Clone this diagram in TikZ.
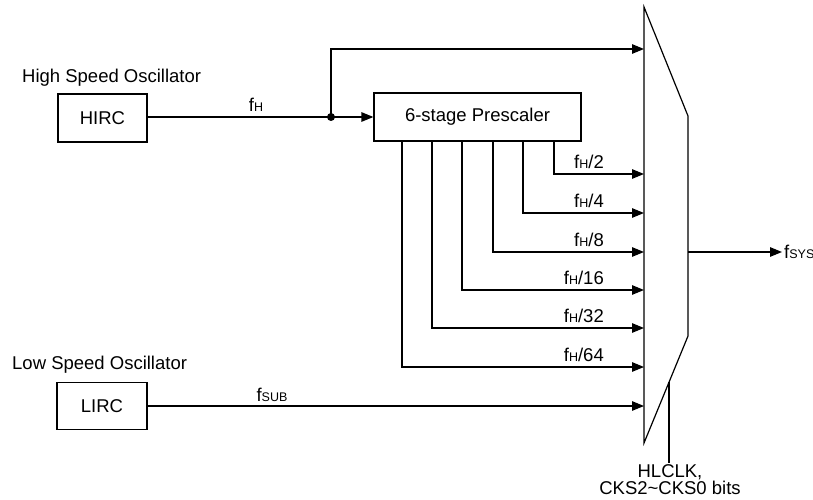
\documentclass[tikz,border=0pt]{standalone}
\usepackage{fontspec}
\setmainfont{Liberation Sans}
\usetikzlibrary{arrows.meta}
\newcommand{\sig}[2]{f{\fontsize{12.5}{13}\selectfont #2}}
\begin{document}
\begin{tikzpicture}[x=1pt,y=-1pt,
  every node/.style={font=\fontsize{18.5}{20}\selectfont, inner sep=0pt},
  wire/.style={line width=1.2pt},
  arr/.style={line width=1.2pt, -{Triangle[length=12pt,width=9.5pt]}},
  lbl/.style={anchor=base east}]
\useasboundingbox (0,0) rectangle (813,500);
% boxes
\node[draw, line width=1.2pt, minimum width=89pt, minimum height=48pt] (hirc) at (102.5,118) {HIRC};
\node[draw, line width=1.2pt, minimum width=90pt, minimum height=47pt] (lirc) at (102,406) {LIRC};
\node[draw, line width=1.2pt, minimum width=207pt, minimum height=48pt] (pre) at (477.5,117) {6-stage Prescaler};
\node[anchor=base west] (hso) at (22,83) {High Speed Oscillator};
\node[anchor=base west] (lso) at (12,369) {Low Speed Oscillator};
% mux
\draw[line width=1.2pt, line join=miter] (644,7) -- (688,116) -- (688,336) -- (644,443) -- cycle;
\coordinate (m0) at (644,49);
\coordinate (m1) at (644,174);
\coordinate (m2) at (644,213);
\coordinate (m3) at (644,252);
\coordinate (m4) at (644,290);
\coordinate (m5) at (644,328);
\coordinate (m6) at (644,367);
\coordinate (m7) at (644,406);
\coordinate (mout) at (688,252);
\coordinate (sel) at (669,382);
\coordinate (selend) at (669,463);
% fH path
\coordinate (dot) at (331,117);
\draw[wire] (hirc.east |- dot) -- (dot);
\draw[arr] (dot) -- (pre.west);
\fill (dot) circle (4pt);
\draw[arr] (dot) |- (m0);
\node[anchor=base] (fh) at (256,111) {\sig{f}{H}};
% prescaler outputs
\coordinate (p1) at (554,141);
\coordinate (p2) at (523,141);
\coordinate (p3) at (493,141);
\coordinate (p4) at (462,141);
\coordinate (p5) at (432,141);
\coordinate (p6) at (402,141);
\draw[arr] (p1) |- (m1);
\draw[arr] (p2) |- (m2);
\draw[arr] (p3) |- (m3);
\draw[arr] (p4) |- (m4);
\draw[arr] (p5) |- (m5);
\draw[arr] (p6) |- (m6);
\node[lbl] (l1) at (604,168) {\sig{f}{H}/2};
\node[lbl] (l2) at (604,207) {\sig{f}{H}/4};
\node[lbl] (l3) at (604,246.5) {\sig{f}{H}/8};
\node[lbl] (l4) at (604,284.5) {\sig{f}{H}/16};
\node[lbl] (l5) at (604,322.5) {\sig{f}{H}/32};
\node[lbl] (l6) at (604,361.5) {\sig{f}{H}/64};
% LIRC
\draw[arr] (lirc.east) -- (m7);
\node[anchor=base] (fsub) at (272,401) {\sig{f}{SUB}};
% output
\draw[arr] (mout) -- (782,252);
\node[anchor=base west] (fsys) at (784,258) {\sig{f}{SYS}};
% select
\draw[wire] (sel) -- (selend);
\node[anchor=base] (hl1) at (670,477) {HLCLK,};
\node[anchor=base] (hl2) at (670,494) {CKS2\textasciitilde CKS0 bits};
\end{tikzpicture}
\end{document}
